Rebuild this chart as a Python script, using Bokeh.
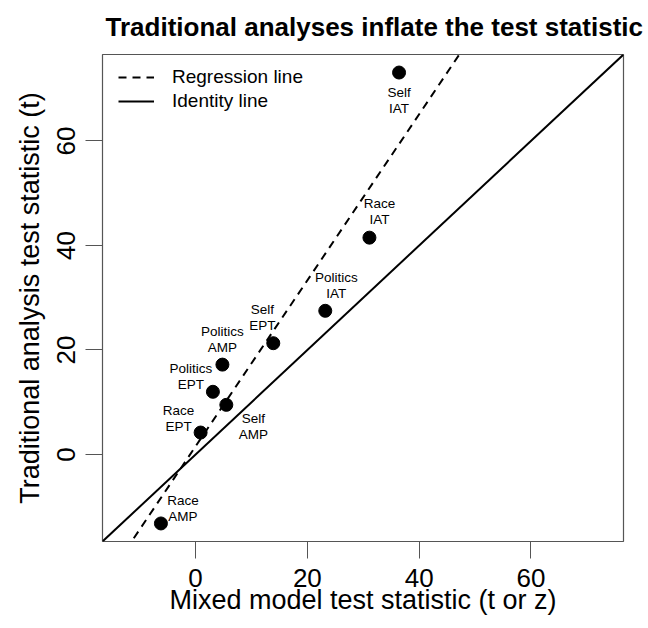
import numpy as np
from bokeh.plotting import figure
from bokeh.models import ColumnDataSource, Range1d, Legend, LegendItem, FixedTicker
from bokeh.embed import file_html
from bokeh.resources import INLINE

# ---- data ----
title_text = "Traditional analyses inflate the test statistic"
tasks = ["Self\nIAT", "Race\nIAT", "Politics\nIAT", "Self\nEPT", "Politics\nAMP",
         "Politics\nEPT", "Self\nAMP", "Race\nEPT", "Race\nAMP"]
mixed = [36.4, 31.1, 23.2, 13.9, 4.8, 3.1, 5.5, 0.9, -6.2]
traditional = [73.1, 41.5, 27.5, 21.3, 17.2, 12.0, 9.5, 4.2, -13.2]
tick_values = [0, 20, 40, 60]

# label placement relative to each point (screen px)
label_dx = [0, 10, 11, -11, 0, -22, 27, -22, 22]
label_dy = [28, -26, -25, -26, -25, -15, 22, -14, -15]

FONT = "Liberation Sans"
GRAY = "#555555"
FRAME_W, FRAME_H = 521, 487

allv = np.array(mixed + traditional)
lo, hi = allv.min(), allv.max()
pad = 0.04 * (hi - lo)
lim = (lo - pad, hi + pad)

p = figure(frame_width=FRAME_W, frame_height=FRAME_H, output_backend="svg", toolbar_location=None,
           x_range=Range1d(*lim), y_range=Range1d(*lim),
           min_border_left=102, min_border_right=25, min_border_top=54, min_border_bottom=87,
           background_fill_color="white", border_fill_color="white")
p.grid.visible = False
p.outline_line_color = GRAY
p.outline_line_width = 1.2

p.title.text = title_text
p.title.text_font = FONT
p.title.text_font_size = "26px"
p.title.text_font_style = "bold"
p.title.align = "left"
p.title.vertical_align = "top"
p.title.offset = 3
p.title.standoff = 22
p.title.text_color = "black"

for ax in (p.xaxis[0], p.yaxis[0]):
    ax.ticker = FixedTicker(ticks=tick_values)
    ax.axis_line_color = None
    ax.major_tick_line_color = GRAY
    ax.major_tick_out = 17
    ax.major_tick_in = 0
    ax.minor_tick_line_color = None
    ax.major_label_text_font = FONT
    ax.major_label_text_font_size = "26px"
    ax.major_label_text_color = "black"
    ax.axis_label_text_font = FONT
    ax.axis_label_text_font_size = "27px"
    ax.axis_label_text_font_style = "normal"
    ax.axis_label_text_color = "black"

p.xaxis[0].major_label_standoff = 10
p.xaxis[0].axis_label_standoff = -5
p.yaxis[0].major_label_standoff = 10
p.yaxis[0].axis_label_standoff = 10

p.xaxis[0].axis_label = "Mixed model test statistic (t or z)"
p.yaxis[0].axis_label = "Traditional analysis test statistic (t)"
p.yaxis[0].major_label_orientation = "parallel"

# identity and regression lines
slope, intercept = np.polyfit(mixed, traditional, 1)
xs = np.array(lim)
ident = p.line(xs, xs, line_color="black", line_width=2)
reg = p.line(xs, slope * xs + intercept, line_color="black", line_width=2, line_dash="8 6")

src = ColumnDataSource(dict(x=mixed, y=traditional, label=tasks, dx=label_dx, dy=label_dy))
p.scatter("x", "y", source=src, size=13, fill_color="black", line_color="black")
p.text("x", "y", text="label", source=src, x_offset="dx", y_offset="dy",
       text_align="center", text_baseline="middle", text_font_size="13.5px",
       text_line_height=1.05, text_color="black", text_font={"value": FONT})

legend = Legend(items=[LegendItem(label="Regression line", renderers=[reg]),
                       LegendItem(label="Identity line", renderers=[ident])],
                location=(16, 428), padding=0, margin=0, spacing=0,
                glyph_width=36, glyph_height=24, label_height=24, label_standoff=18,
                label_text_font=FONT, label_text_font_size="19px", label_text_color="black",
                border_line_color=None, background_fill_alpha=0)
p.add_layout(legend)

open("out.html", "w").write(file_html(p, INLINE))
